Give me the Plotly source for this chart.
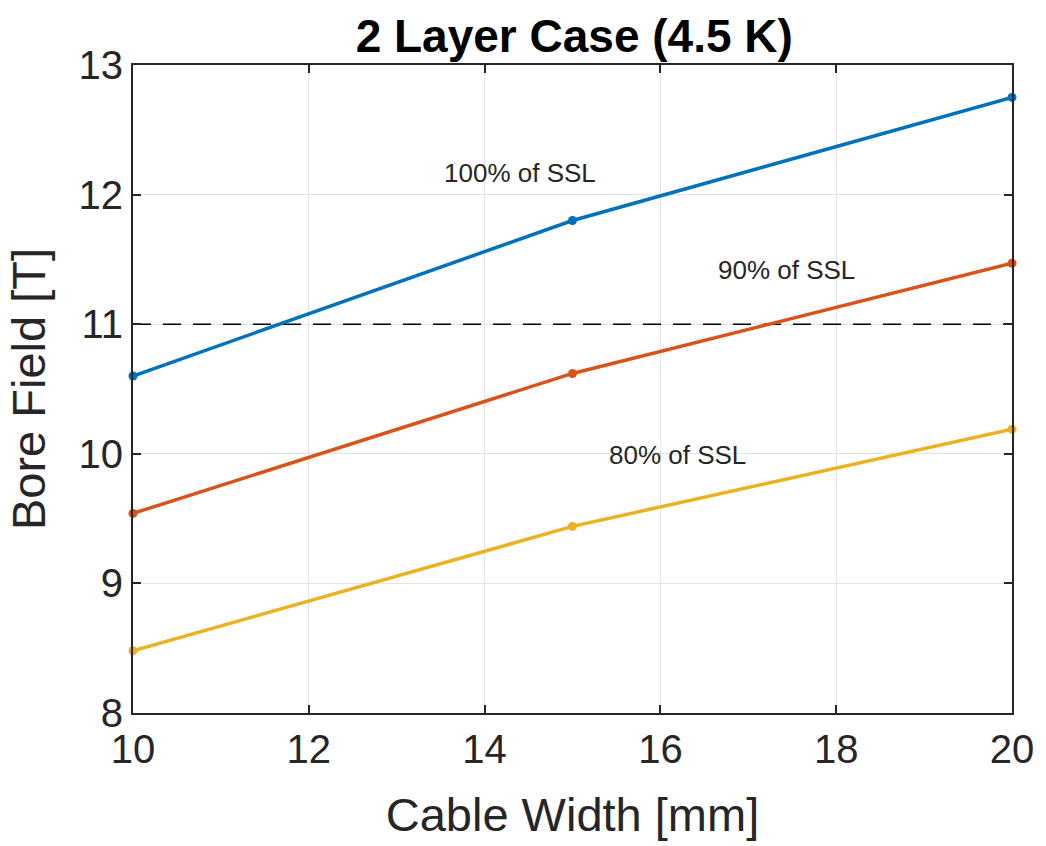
import plotly.graph_objects as go

# Cable width sweep and resulting bore field for each fraction of short-sample limit
cable_width_mm = [10, 15, 20]
field_100_ssl = [10.60, 11.80, 12.75]
field_90_ssl = [9.54, 10.62, 11.47]
field_80_ssl = [8.48, 9.44, 10.19]
target_field = 11.0

series = [
    ("100% of SSL", field_100_ssl, "#0072BD"),
    ("90% of SSL", field_90_ssl, "#D95319"),
    ("80% of SSL", field_80_ssl, "#EDB120"),
]

x_ticks = [10, 12, 14, 16, 18, 20]
y_ticks = [8, 9, 10, 11, 12, 13]

FONT = "Liberation Sans, Arial, Helvetica, sans-serif"
AX = "#262626"

fig = go.Figure()

# Design target line
fig.add_trace(go.Scatter(
    x=[cable_width_mm[0], cable_width_mm[-1]], y=[target_field, target_field],
    mode="lines", line=dict(color="#000000", width=1.5, dash="18px,12px"),
    hoverinfo="skip", showlegend=False,
))

for name, vals, color in series:
    fig.add_trace(go.Scatter(
        x=cable_width_mm, y=vals, name=name, mode="lines+markers",
        line=dict(color=color, width=3.5),
        marker=dict(color=color, size=9),
        showlegend=False, cliponaxis=False,
    ))

# In-plot labels for each curve
labels = [
    ("100% of SSL", 14.4, 12.17),
    ("90% of SSL", 17.44, 11.42),
    ("80% of SSL", 16.2, 9.99),
]
for text, x, y in labels:
    fig.add_annotation(x=x, y=y, text=text, showarrow=False,
                       font=dict(family=FONT, size=26, color=AX))

axis_common = dict(
    showline=True, linecolor=AX, linewidth=2, mirror="ticks",
    ticks="inside", ticklen=8, tickwidth=1.5, tickcolor=AX,
    showgrid=True, gridcolor="#E3E3E3", gridwidth=1.2,
    zeroline=False,
    tickfont=dict(family=FONT, size=40, color=AX),
)

fig.update_xaxes(
    range=[10, 20], tickvals=x_ticks, ticktext=[str(t) for t in x_ticks],
    title=dict(text="Cable Width [mm]", font=dict(family=FONT, size=47, color=AX), standoff=28),
    **axis_common,
)
fig.update_yaxes(
    range=[8, 13], tickvals=y_ticks, ticktext=[str(t) for t in y_ticks],
    title=dict(text="Bore Field [T]", font=dict(family=FONT, size=47, color=AX), standoff=18),
    **axis_common,
)

fig.update_layout(
    width=1046, height=846,
    margin=dict(l=133, r=30, t=65, b=133),
    paper_bgcolor="white", plot_bgcolor="white",
    title=dict(text="<b>2 Layer Case (4.5 K)</b>", x=0.549, xanchor="center",
               y=0.958, yanchor="middle",
               font=dict(family=FONT, size=46, color="#000000")),
)

fig.write_html("out.html")
